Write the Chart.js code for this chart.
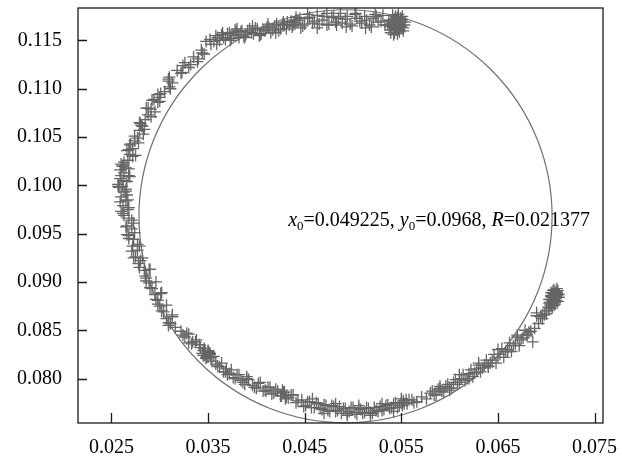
<!DOCTYPE html>
<html>
<head>
<meta charset="utf-8">
<script src="https://cdn.jsdelivr.net/npm/chart.js@4.4.0/dist/chart.umd.min.js"></script>
<style>
  html, body { margin: 0; padding: 0; background: #fff; }
  #wrap { width: 622px; height: 457px; }
</style>
</head>
<body>
<div id="wrap"><canvas id="chart" width="622" height="457"></canvas></div>
<script>
/* ---------- axis ranges and ticks ---------- */
const xMin = 0.02154, xMax = 0.07587;
const yMin = 0.0754, yMax = 0.11836;
const xTicks = [0.025, 0.035, 0.045, 0.055, 0.065, 0.075];
const yTicks = [0.080, 0.085, 0.090, 0.095, 0.100, 0.105, 0.110, 0.115];

/* ---------- fitted circle ---------- */
const x0 = 0.049225, y0 = 0.0968, R = 0.021377;

const traceX = [
  // top blob
  0.0540,0.0543,0.0547,0.0550,0.0545,0.0538,0.0552,0.0544,0.0548,0.0541,
  0.0546,0.0549,0.0539,0.0543,0.0551,0.0545,0.0542,0.0547,0.0544,0.0553,
  0.0537,0.0541,0.0546,0.0550,0.0554,0.0539,0.0543,0.0548,0.0552,0.0536,
  0.0545,0.0549,0.0542,0.0547,0.0551,
  0.0544,0.0546,0.0542,0.0548,0.0545,0.0543,0.0547,0.0540,0.0550,0.0544,
  0.0546,0.0541,
  // top run
  0.0531,0.0526,0.0521,0.0517,0.0512,0.0507,0.0502,0.0497,0.0492,0.0487,
  0.0482,0.0478,0.0473,0.0468,0.0463,0.0458,0.0453,0.0448,0.0443,0.0438,
  0.0436,0.0440,0.0434,0.0441,0.0437,0.0439,
  0.0529,0.0524,0.0519,0.0514,0.0509,0.0504,0.0499,0.0494,0.0489,0.0485,
  0.0480,0.0475,0.0470,0.0465,0.0460,0.0455,0.0450,0.0445,
  0.0533,0.0523,0.0513,0.0503,0.0493,0.0483,0.0473,0.0463,0.0453,0.0446,
  0.0441,0.0432,
  // upper left arc
  0.0431,0.0427,0.0423,0.0419,0.0415,0.0411,0.0407,0.0403,0.0399,0.0395,
  0.0391,0.0387,0.0384,0.0381,0.0378,0.0374,0.0370,0.0366,0.0362,0.0358,
  0.0353,0.0348,
  0.0429,0.0425,0.0421,0.0417,0.0413,0.0409,0.0405,0.0401,0.0397,0.0393,
  0.0389,0.0385,0.0382,0.0379,0.0376,0.0372,0.0368,0.0364,0.0360,0.0356,
  0.0428,0.0420,0.0412,0.0404,0.0396,0.0388,0.0380,0.0373,0.0365,0.0359,
  0.0352,0.0346,
  // left side, upper half
  0.0344,0.0339,0.0335,0.0330,0.0326,0.0322,0.0318,0.0313,0.0309,0.0305,
  0.0301,0.0298,0.0294,0.0291,0.0288,0.0285,0.0282,0.0279,0.0277,0.0274,
  0.0272,0.0269,0.0267,0.0265,0.0263,0.0262,0.0261,0.0263,
  0.0300,0.0286,0.0281,0.0270,0.0266,0.0259,0.0268,0.0257,0.0265,0.0260,
  0.0343,0.0340,0.0324,0.0323,0.0309,0.0310,0.0298,0.0300,0.0288,0.0291,
  0.0280,0.0284,0.0274,0.0278,0.0268,0.0272,0.0263,0.0268,0.0260,0.0266,
  0.0258,0.0265,0.0259,0.0262,
  0.0332,0.0310,0.0311,0.0292,0.0295,0.0279,0.0283,0.0269,0.0275,0.0261,
  0.0269,0.0257,
  // left side, lower half
  0.0260,0.0265,0.0262,0.0267,0.0263,0.0268,0.0266,0.0271,0.0268,0.0273,
  0.0272,0.0277,0.0275,0.0280,0.0279,0.0284,0.0286,0.0289,0.0292,0.0295,
  0.0298,0.0300,0.0304,0.0307,0.0311,0.0316,
  0.0266,0.0259,0.0268,0.0262,0.0271,0.0265,0.0274,0.0268,0.0277,0.0271,
  0.0282,0.0278,0.0289,0.0285,0.0296,0.0290,0.0301,0.0296,0.0307,0.0302,
  0.0313,0.0309,
  0.0267,0.0260,0.0273,0.0266,0.0279,0.0273,0.0290,0.0286,0.0302,0.0298,
  0.0313,0.0309,
  // lower left arc
  0.0322,0.0326,0.0330,0.0334,0.0338,0.0342,0.0345,0.0347,0.0349,0.0351,
  0.0348,0.0354,0.0358,0.0362,0.0366,0.0369,0.0372,0.0376,0.0380,0.0384,
  0.0388,0.0392,0.0396,0.0400,0.0404,0.0409,0.0414,0.0418,0.0422,0.0425,
  0.0428,0.0433,0.0438,0.0443,
  0.0324,0.0328,0.0333,0.0337,0.0341,0.0344,0.0346,0.0350,0.0352,0.0346,
  0.0350,0.0356,0.0360,0.0364,0.0368,0.0374,0.0378,0.0382,0.0386,0.0390,
  0.0398,0.0402,0.0407,0.0412,0.0416,0.0420,0.0430,0.0436,0.0441,
  0.0347,0.0350,0.0352,0.0348,0.0345,0.0353,0.0330,0.0370,0.0390,0.0410,
  0.0426,0.0429,0.0431,0.0427,
  // bottom
  0.0447,0.0451,0.0455,0.0460,0.0464,0.0468,0.0472,0.0476,0.0480,0.0484,
  0.0488,0.0492,0.0496,0.0500,0.0504,0.0508,0.0512,0.0516,0.0520,0.0524,
  0.0528,0.0532,0.0536,0.0540,0.0544,0.0548,0.0552,0.0556,0.0561,0.0566,
  0.0571,0.0576,
  0.0449,0.0453,0.0457,0.0462,0.0466,0.0470,0.0474,0.0478,0.0482,0.0486,
  0.0490,0.0494,0.0498,0.0502,0.0506,0.0510,0.0514,0.0518,0.0522,0.0526,
  0.0530,0.0534,0.0538,0.0542,0.0546,0.0550,0.0558,0.0563,
  0.0458,0.0470,0.0482,0.0494,0.0506,0.0518,0.0530,0.0542,0.0550,0.0553,
  0.0555,0.0551,
  // right rising run
  0.0580,0.0584,0.0588,0.0592,0.0596,0.0600,0.0604,0.0608,0.0612,0.0616,
  0.0620,0.0624,0.0628,0.0632,0.0636,0.0640,0.0644,0.0648,0.0652,0.0656,
  0.0660,0.0664,0.0668,0.0672,0.0676,0.0680,0.0684,0.0688,0.0692,0.0696,
  0.0686,
  0.0582,0.0586,0.0590,0.0594,0.0598,0.0602,0.0606,0.0610,0.0614,0.0618,
  0.0622,0.0626,0.0630,0.0634,0.0638,0.0642,0.0646,0.0650,0.0654,0.0658,
  0.0662,0.0666,0.0670,0.0674,0.0678,0.0682,0.0690,0.0694,
  0.0590,0.0600,0.0610,0.0620,0.0630,0.0640,0.0650,0.0660,0.0670,0.0680,
  0.0690,0.0696,
  // end blob
  0.0698,0.0700,0.0703,0.0705,0.0707,0.0709,0.0711,0.0706,0.0708,0.0710,
  0.0704,0.0712,0.0707,0.0709,0.0705,0.0711,0.0708,0.0706,0.0710,0.0713,
  0.0703,0.0706,0.0709,0.0712,0.0704,0.0707,0.0710,0.0713,0.0705,0.0708,
  0.0711,0.0702,0.0706,0.0709,0.0712,0.0700,
  0.0707,0.0709,0.0706,0.0708,0.0710,0.0704,0.0707,0.0709,0.0711,0.0705,
  0.0708,0.0703
];
const traceY = [
  0.1168,0.1172,0.1165,0.1169,0.1161,0.1164,0.1163,0.1175,0.1159,0.1170,
  0.1166,0.1173,0.1158,0.1167,0.1171,0.1162,0.1156,0.1177,0.1169,0.1166,
  0.1170,0.1176,0.1174,0.1172,0.1169,0.1161,0.1158,0.1161,0.1160,0.1166,
  0.1170,0.1165,0.1163,0.1168,0.1175,
  0.1167,0.1164,0.1164,0.1167,0.1170,0.1160,0.1162,0.1171,0.1164,0.1173,
  0.1157,0.1168,

  0.1176,0.1169,0.1173,0.1166,0.1175,0.1170,0.1177,0.1167,0.1172,0.1178,
  0.1169,0.1174,0.1166,0.1171,0.1176,0.1168,0.1173,0.1165,0.1171,0.1166,
  0.1170,0.1167,0.1166,0.1171,0.1164,0.1169,
  0.1170,0.1175,0.1164,0.1171,0.1168,0.1173,0.1165,0.1175,0.1168,0.1173,
  0.1175,0.1167,0.1175,0.1167,0.1170,0.1174,0.1167,0.1173,
  0.1166,0.1177,0.1163,0.1178,0.1164,0.1166,0.1178,0.1163,0.1177,0.1163,
  0.1174,0.1169,

  0.1162,0.1167,0.1160,0.1165,0.1158,0.1164,0.1161,0.1155,0.1163,0.1158,
  0.1160,0.1154,0.1159,0.1156,0.1161,0.1152,0.1157,0.1153,0.1150,0.1155,
  0.1146,0.1149,
  0.1166,0.1162,0.1167,0.1161,0.1163,0.1160,0.1157,0.1162,0.1157,0.1162,
  0.1156,0.1160,0.1153,0.1159,0.1155,0.1158,0.1151,0.1156,0.1153,0.1149,
  0.1169,0.1158,0.1167,0.1156,0.1165,0.1153,0.1162,0.1150,0.1158,0.1146,
  0.1151,0.1136,

  0.1137,0.1128,0.1133,0.1122,0.1127,0.1116,0.1119,0.1106,0.1108,0.1097,
  0.1095,0.1086,0.1089,0.1079,0.1073,0.1068,0.1061,0.1057,0.1049,0.1046,
  0.1038,0.1032,0.1026,0.1018,0.1013,0.1005,0.0999,0.0993,
  0.1091,0.1080,0.1062,0.1043,0.1036,0.1016,0.1010,0.1001,0.0996,0.1022,
  0.1140,0.1131,0.1124,0.1117,0.1110,0.1102,0.1094,0.1087,0.1080,0.1071,
  0.1064,0.1058,0.1051,0.1044,0.1037,0.1030,0.1024,0.1017,0.1010,0.1004,
  0.0998,0.0994,0.1007,0.1020,
  0.1125,0.1112,0.1100,0.1088,0.1076,0.1065,0.1053,0.1042,0.1031,0.1020,
  0.1009,0.0999,

  0.0988,0.0984,0.0979,0.0975,0.0969,0.0966,0.0958,0.0955,0.0948,0.0944,
  0.0937,0.0933,0.0926,0.0922,0.0915,0.0912,0.0904,0.0899,0.0893,0.0887,
  0.0881,0.0875,0.0869,0.0862,0.0857,0.0853,
  0.0990,0.0983,0.0977,0.0971,0.0964,0.0957,0.0951,0.0945,0.0939,0.0932,
  0.0925,0.0919,0.0913,0.0906,0.0900,0.0894,0.0888,0.0882,0.0876,0.0870,
  0.0864,0.0858,
  0.0985,0.0973,0.0961,0.0949,0.0937,0.0925,0.0913,0.0901,0.0889,0.0877,
  0.0866,0.0855,

  0.0849,0.0843,0.0846,0.0838,0.0840,0.0832,0.0829,0.0826,0.0823,0.0827,
  0.0821,0.0818,0.0815,0.0812,0.0807,0.0810,0.0805,0.0801,0.0804,0.0798,
  0.0794,0.0799,0.0793,0.0790,0.0796,0.0788,0.0791,0.0785,0.0787,0.0782,
  0.0786,0.0780,0.0783,0.0777,
  0.0845,0.0847,0.0836,0.0838,0.0835,0.0826,0.0831,0.0822,0.0826,0.0824,
  0.0829,0.0823,0.0813,0.0816,0.0807,0.0809,0.0800,0.0804,0.0796,0.0800,
  0.0791,0.0795,0.0787,0.0791,0.0784,0.0789,0.0779,0.0783,0.0775,
  0.0829,0.0828,0.0825,0.0822,0.0824,0.0822,0.0837,0.0804,0.0802,0.0787,
  0.0782,0.0786,0.0781,0.0788,

  0.0778,0.0772,0.0776,0.0770,0.0774,0.0768,0.0772,0.0766,0.0771,0.0767,
  0.0764,0.0769,0.0766,0.0770,0.0763,0.0768,0.0765,0.0769,0.0764,0.0767,
  0.0771,0.0768,0.0773,0.0770,0.0775,0.0772,0.0777,0.0774,0.0778,0.0776,
  0.0781,0.0779,
  0.0771,0.0776,0.0770,0.0775,0.0769,0.0773,0.0767,0.0772,0.0766,0.0771,
  0.0769,0.0764,0.0770,0.0765,0.0769,0.0764,0.0770,0.0765,0.0770,0.0766,
  0.0767,0.0772,0.0769,0.0774,0.0770,0.0775,0.0778,0.0775,
  0.0779,0.0764,0.0774,0.0762,0.0772,0.0762,0.0774,0.0766,0.0779,0.0774,
  0.0778,0.0772,

  0.0785,0.0783,0.0789,0.0787,0.0792,0.0790,0.0796,0.0794,0.0800,0.0798,
  0.0805,0.0802,0.0810,0.0807,0.0814,0.0812,0.0819,0.0816,0.0825,0.0822,
  0.0830,0.0828,0.0836,0.0834,0.0842,0.0845,0.0849,0.0852,0.0857,0.0862,
  0.0838,
  0.0787,0.0783,0.0790,0.0786,0.0794,0.0790,0.0799,0.0796,0.0804,0.0800,
  0.0809,0.0806,0.0814,0.0811,0.0819,0.0816,0.0825,0.0822,0.0831,0.0828,
  0.0837,0.0834,0.0843,0.0840,0.0850,0.0848,0.0865,0.0864,
  0.0792,0.0788,0.0804,0.0800,0.0816,0.0813,0.0830,0.0828,0.0845,0.0846,
  0.0868,0.0866,

  0.0866,0.0870,0.0873,0.0877,0.0880,0.0883,0.0886,0.0884,0.0888,0.0890,
  0.0879,0.0884,0.0891,0.0879,0.0886,0.0889,0.0882,0.0875,0.0885,0.0887,
  0.0882,0.0885,0.0888,0.0891,0.0876,0.0878,0.0881,0.0884,0.0889,0.0892,
  0.0893,0.0874,0.0873,0.0877,0.0880,0.0867,
  0.0884,0.0886,0.0881,0.0880,0.0883,0.0882,0.0888,0.0879,0.0888,0.0885,
  0.0876,0.0878
];

const points = traceX.map((x, i) => ({ x: x, y: traceY[i] }));

const serif = "'Liberation Serif', 'DejaVu Serif', serif";

// circle fit, drawn through the scales
const circlePlugin = {
  id: 'circleFit',
  beforeDatasetsDraw(chart) {
    const sx = chart.scales.x, sy = chart.scales.y, ctx = chart.ctx;
    const cx = sx.getPixelForValue(x0), cy = sy.getPixelForValue(y0);
    const rx = sx.getPixelForValue(x0 + R) - cx;
    const ry = cy - sy.getPixelForValue(y0 + R);
    ctx.save();
    ctx.strokeStyle = '#707070';
    ctx.lineWidth = 1.2;
    ctx.beginPath();
    ctx.ellipse(cx, cy, rx, ry, 0, 0, Math.PI * 2);
    ctx.stroke();
    ctx.restore();
  }
};

// frame, inward ticks and the fit label
const framePlugin = {
  id: 'frame',
  afterDatasetsDraw(chart) {
    const a = chart.chartArea, ctx = chart.ctx;
    const sx = chart.scales.x, sy = chart.scales.y;
    ctx.save();
    ctx.strokeStyle = '#1a1a1a';
    ctx.lineWidth = 1.3;
    ctx.strokeRect(a.left, a.top, a.right - a.left, a.bottom - a.top);
    ctx.beginPath();
    for (const v of xTicks) {
      const p = Math.round(sx.getPixelForValue(v)) + 0.5;
      ctx.moveTo(p, a.bottom);
      ctx.lineTo(p, a.bottom - 10);
    }
    for (const v of yTicks) {
      const p = Math.round(sy.getPixelForValue(v)) + 0.5;
      ctx.moveTo(a.left, p);
      ctx.lineTo(a.left + 9, p);
    }
    ctx.stroke();

    // x0=..., y0=..., R=...
    let px = sx.getPixelForValue(0.04329);
    const base = sy.getPixelForValue(0.09579);
    const parts = [
      ['x', 'italic 20px ' + serif, 0],
      ['0', '13px ' + serif, 4],
      ['=0.049225, ', '20px ' + serif, 0],
      ['y', 'italic 20px ' + serif, 0],
      ['0', '13px ' + serif, 4],
      ['=0.0968, ', '20px ' + serif, 0],
      ['R', 'italic 20px ' + serif, 0],
      ['=0.021377', '20px ' + serif, 0]
    ];
    ctx.fillStyle = '#000';
    ctx.textBaseline = 'alphabetic';
    ctx.textAlign = 'left';
    for (const [t, f, dy] of parts) {
      ctx.font = f;
      ctx.fillText(t, px, base + dy);
      px += ctx.measureText(t).width;
    }
    ctx.restore();
  }
};

new Chart(document.getElementById('chart'), {
  type: 'scatter',
  data: {
    datasets: [{
      data: points,
      pointStyle: 'cross',
      pointRadius: 6,
      borderWidth: 1.3,
      borderColor: '#666666',
      backgroundColor: '#666666'
    }]
  },
  options: {
    responsive: false,
    devicePixelRatio: 1,
    animation: false,
    layout: { autoPadding: false, padding: { left: 0, right: 19, top: 8, bottom: 0 } },
    plugins: { legend: { display: false }, tooltip: { enabled: false } },
    scales: {
      x: {
        type: 'linear', min: xMin, max: xMax,
        afterBuildTicks: s => { s.ticks = xTicks.map(v => ({ value: v })); },
        afterFit: s => { s.height = 34; s.paddingLeft = 0; s.paddingRight = 0; },
        grid: { drawOnChartArea: false, drawTicks: false },
        border: { display: false },
        ticks: {
          autoSkip: false, maxRotation: 0, padding: 13, color: '#000',
          font: { family: serif, size: 20 },
          callback: v => v.toFixed(3)
        }
      },
      y: {
        type: 'linear', min: yMin, max: yMax,
        afterBuildTicks: s => { s.ticks = yTicks.map(v => ({ value: v })); },
        afterFit: s => { s.width = 78; s.paddingTop = 0; s.paddingBottom = 0; },
        grid: { drawOnChartArea: false, drawTicks: false },
        border: { display: false },
        ticks: {
          autoSkip: false, padding: 16, color: '#000',
          font: { family: serif, size: 20 },
          callback: v => v.toFixed(3)
        }
      }
    }
  },
  plugins: [circlePlugin, framePlugin]
});
</script>
</body>
</html>
